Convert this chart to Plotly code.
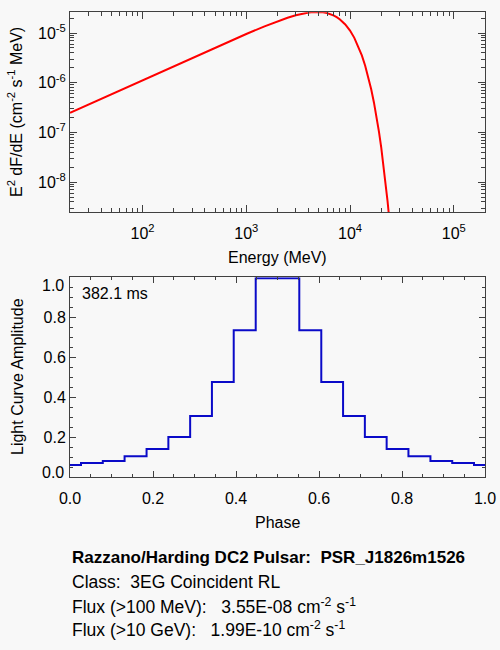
import plotly.graph_objects as go

# top panel: E^2 dF/dE model curve
energy = [20, 100, 500, 1000, 1500, 2000, 2500, 3000, 3500, 4000, 4500, 5000,
          5500, 6000, 6500, 7000, 7500, 8000, 9000, 10000, 11000, 12000, 13000,
          14000, 15000, 16000, 17000, 18000, 19000, 20000, 21000, 22000, 23000, 24000]
e2dfde = [2.48e-7, 1.12e-6, 5.07e-6, 9.55e-6, 1.36e-5, 1.72e-5, 2.03e-5, 2.28e-5,
          2.46e-5, 2.59e-5, 2.65e-5, 2.66e-5, 2.61e-5, 2.53e-5, 2.40e-5, 2.24e-5,
          2.07e-5, 1.88e-5, 1.49e-5, 1.12e-5, 8.00e-6, 5.43e-6, 3.54e-6, 2.20e-6,
          1.30e-6, 7.38e-7, 4.01e-7, 2.08e-7, 1.04e-7, 4.94e-8, 2.25e-8, 9.86e-9,
          4.14e-9, 1.66e-9]

# bottom panel: light curve histogram
phase = [0.000, 0.053, 0.105, 0.158, 0.211, 0.263, 0.316, 0.368, 0.421, 0.474,
         0.526, 0.579, 0.632, 0.684, 0.737, 0.789, 0.842, 0.895, 0.947, 1.000]
amplitude = [0.062, 0.072, 0.082, 0.105, 0.142, 0.202, 0.307, 0.477, 0.735, 0.995,
             0.995, 0.735, 0.477, 0.307, 0.202, 0.142, 0.105, 0.082, 0.072, 0.062]

energy_ticks = [1e2, 1e3, 1e4, 1e5]
energy_ticktext = ["10<sup>2</sup>", "10<sup>3</sup>", "10<sup>4</sup>", "10<sup>5</sup>"]
flux_ticks = [1e-8, 1e-7, 1e-6, 1e-5]
flux_ticktext = ["10<sup>-8</sup>", "10<sup>-7</sup>", "10<sup>-6</sup>", "10<sup>-5</sup>"]
amp_ticks = [0.0, 0.2, 0.4, 0.6, 0.8, 1.0]
amp_ticktext = ["", "0.2", "0.4", "0.6", "0.8", ""]  # end labels drawn nudged inward below

info_lines = [
    "<b>Razzano/Harding DC2 Pulsar:\u00a0\u00a0PSR_J1826m1526</b>",
    "Class:\u00a0\u00a03EG Coincident RL",
    "Flux (>100 MeV):\u00a0\u00a0\u00a03.55E-08 cm<sup>-2</sup> s<sup>-1</sup>"
    "<br>Flux (>10 GeV):\u00a0\u00a0\u00a01.99E-10 cm<sup>-2</sup> s<sup>-1</sup>",
]
period = "382.1 ms"

W, H = 500, 650
FONT = "Liberation Sans, Arial, Helvetica, sans-serif"
BG = "#f8f8f8"


def px(x):
    return x / W


def py(y):
    return 1 - y / H


# minor tick positions on the log axes (2..9 in every decade)
e_minor = [m * 10 ** d for d in range(1, 6) for m in range(2, 10) if 20 <= m * 10 ** d <= 2e5]
f_minor = [m * 10.0 ** d for d in range(-9, -4) for m in range(2, 10) if 2.5e-9 <= m * 10.0 ** d <= 2.6e-5]

fig = go.Figure()

fig.add_trace(go.Scatter(
    x=energy, y=e2dfde, mode="lines",
    line=dict(color="#ff0000", width=2),
    xaxis="x", yaxis="y", showlegend=False,
))

fig.add_trace(go.Scatter(
    x=phase, y=amplitude, mode="lines",
    line=dict(color="#0a0ac8", width=2, shape="hvh"),
    xaxis="x2", yaxis="y2", showlegend=False,
))

axis_common = dict(
    showline=True, linecolor="#404040", linewidth=1, mirror="ticks",
    ticks="inside", tickcolor="#404040", showgrid=False, zeroline=False,
    automargin=False,
    tickfont=dict(family=FONT, size=16, color="black"),
)

fig.update_layout(
    width=W, height=H,
    margin=dict(l=0, r=0, t=0, b=0),
    paper_bgcolor=BG, plot_bgcolor=BG,
    font=dict(family=FONT, size=16, color="black"),
    xaxis=dict(
        type="log", range=[1.301, 5.301], domain=[px(70), px(485)],
        anchor="y", tickvals=energy_ticks, ticktext=energy_ticktext, ticklen=7,
        ticklabelstandoff=7,
        minor=dict(ticks="inside", ticklen=4, tickcolor="#404040",
                   tickmode="array", tickvals=e_minor, showgrid=False),
        **axis_common,
    ),
    yaxis=dict(
        type="log", range=[-8.602, -4.583], domain=[py(212), py(12.3)],
        anchor="x", tickvals=flux_ticks, ticktext=flux_ticktext, ticklen=7,
        minor=dict(ticks="inside", ticklen=4, tickcolor="#404040",
                   tickmode="array", tickvals=f_minor, showgrid=False),
        **axis_common,
    ),
    xaxis2=dict(
        range=[0, 1], domain=[px(70), px(485)], anchor="y2",
        dtick=0.2, tickformat=".1f", ticklen=6, ticklabelstandoff=6,
        minor=dict(ticks="inside", ticklen=3, dtick=0.05, tickcolor="#404040"),
        **axis_common,
    ),
    yaxis2=dict(
        range=[0, 1], domain=[py(477.3), py(277.3)], anchor="x2",
        tickvals=amp_ticks, ticktext=amp_ticktext, ticklen=6,
        minor=dict(ticks="inside", ticklen=3, dtick=0.05, tickcolor="#404040"),
        **axis_common,
    ),
)

annotations = [
    dict(text="E<sup>2</sup> dF/dE (cm<sup>-2</sup> s<sup>-1</sup> MeV)",
         x=px(15), y=py(112), textangle=-90),
    dict(text="Energy (MeV)", x=px(277.5), y=py(257)),
    dict(text="Light Curve Amplitude", x=px(17), y=py(377), textangle=-90),
    dict(text="Phase", x=px(277.5), y=py(522)),
    dict(text=period, x=px(80), y=py(293), xanchor="left"),
    dict(text="0.0", x=px(66), y=py(472), xanchor="right"),
    dict(text="1.0", x=px(66), y=py(285), xanchor="right"),
]
line_y = [557, 582, 617]
line_size = [17, 17.5, 17.5]
for txt, yy, fs in zip(info_lines, line_y, line_size):
    annotations.append(dict(text=txt, x=px(70), y=py(yy), xanchor="left", align="left",
                            font=dict(family=FONT, size=fs, color="black")))

for a in annotations:
    a.setdefault("xref", "paper")
    a.setdefault("yref", "paper")
    a.setdefault("showarrow", False)
    a.setdefault("xanchor", "center")
    a.setdefault("yanchor", "middle")
    a.setdefault("font", dict(family=FONT, size=16, color="black"))
    fig.add_annotation(**a)

# drop the page's default body margin so the 500x650 figure fills the window
fig.write_html("out.html", config=dict(displayModeBar=False), post_script=(
    "document.body.style.margin='0';"
    "document.body.style.background='" + BG + "';"
))
